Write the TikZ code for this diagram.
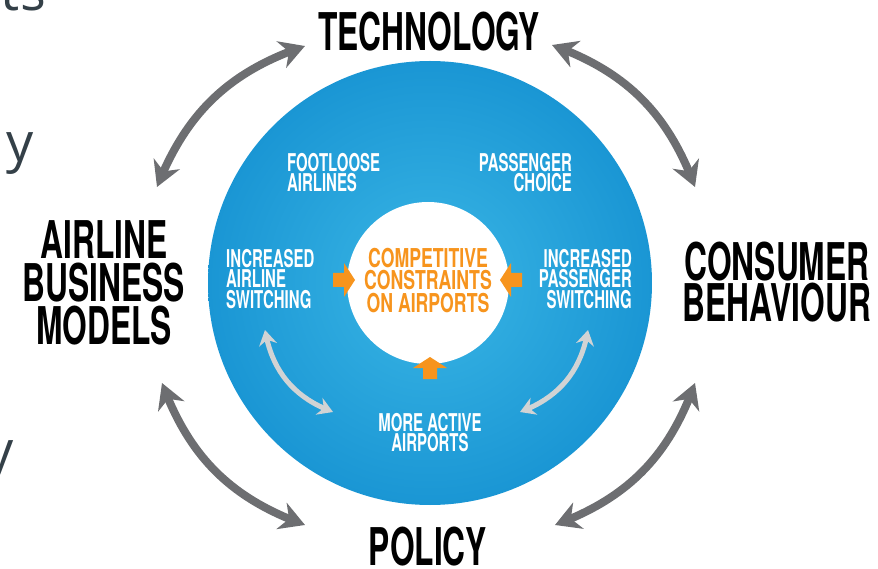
\documentclass[tikz,border=0pt]{standalone}
\usepackage{fontspec}
\usetikzlibrary{arrows.meta,bending}
\newfontfamily\condfont{TeX Gyre Heros}[FakeStretch=0.61]
\newfontfamily\corefont{TeX Gyre Heros}[FakeStretch=0.68]
\newfontfamily\slidefont{Open Sans}
\definecolor{discouter}{RGB}{26,150,212}
\definecolor{discinner}{RGB}{58,182,229}
\definecolor{arrowgray}{RGB}{109,110,113}
\definecolor{lightarrow}{RGB}{209,211,212}
\definecolor{airportorange}{RGB}{247,148,29}
\definecolor{slidegray}{RGB}{52,64,72}
\tikzset{%
    bigword/.style={font=\condfont\bfseries\fontsize{52}{43}\selectfont, align=center, inner sep=0pt},
    smallword/.style={text=white, font=\condfont\bfseries\fontsize{24.5}{20.5}\selectfont, inner sep=0pt},
    coreword/.style={text=airportorange, font=\corefont\bfseries\fontsize{26}{22.5}\selectfont, align=center, inner sep=0pt},
    slideword/.style={text=slidegray, font=\slidefont\fontsize{54}{60}\selectfont, inner sep=0pt}
}

\begin{document}
\begin{tikzpicture}[
                x=1pt, y=-1pt,
                outerarrow/.style={draw=arrowgray, line width=8pt, >={Stealth[length=25pt,width=28pt,inset=8pt]}, <->},
                innerarrow/.style={draw=lightarrow, line width=5pt, >={Stealth[length=15pt,width=18pt,inset=5pt]}, <->}
            ]
            \useasboundingbox (0,0) rectangle (878,569);
            \clip (0,0) rectangle (878,569);

            % discs
            \node[circle, minimum size=444pt, inner sep=0pt, inner color=discinner, outer color=discouter] (disc) at (430,283){};
            \node[circle, minimum size=162pt, inner sep=0pt, fill=white] (core) at (428,283){};

            % cut-off slide text
            \node[slideword, anchor=base east] (frag1) at (46,11){ts};
            \node[slideword, anchor=base east] (frag2) at (34,162){y};
            \node[slideword, anchor=base east] (frag3) at (14,469){y};

            % outer labels
            \node[bigword, anchor=north] (tech) at (429,12){TECHNOLOGY};
            \node[bigword, anchor=north] (models) at (104,220){AIRLINE\\BUSINESS\\MODELS};
            \node[bigword, anchor=north, font=\condfont\bfseries\fontsize{52}{41}\selectfont] (consumer) at (777,242){CONSUMER\\BEHAVIOUR};
            \node[bigword, anchor=north] (policy) at (428,527){POLICY};

            % inner labels
            \node[smallword, anchor=north west, align=left] (footloose) at (287,153){FOOTLOOSE\\AIRLINES};
            \node[smallword, anchor=north east, align=right] (choice) at (572,153){PASSENGER\\CHOICE};
            \node[smallword, anchor=north west, align=left] (airswitch) at (226,249){INCREASED\\AIRLINE\\SWITCHING};
            \node[smallword, anchor=north east, align=right] (passswitch) at (632,249){INCREASED\\PASSENGER\\SWITCHING};
            \node[smallword, anchor=north, align=center] (active) at (430,413){MORE ACTIVE\\AIRPORTS};
            \node[coreword, anchor=north] (constraints) at (428,248){COMPETITIVE\\CONSTRAINTS\\ON AIRPORTS};

            % orange block arrows
            \foreach \px/\py/\ang in {333/280/0, 522/280/180, 430/379/90}
                \fill[airportorange, shift={(\px,\py)}, rotate=\ang]
                    (0,-7) -- (11,-7) -- (11,-17) -- (22,0) -- (11,17) -- (11,7) -- (0,7) -- cycle;

            % outer arrows
            \coordinate (tlA) at (157,187);
            \coordinate (tlB) at (305,46);
            \coordinate (trA) at (552,45);
            \coordinate (trB) at (695,187);
            \coordinate (blA) at (162,383);
            \coordinate (blB) at (305,525);
            \coordinate (brA) at (555,525);
            \coordinate (brB) at (695,383);
            \draw[outerarrow] (tlA) to[bend left=25] (tlB);
            \draw[outerarrow] (trA) to[bend left=25] (trB);
            \draw[outerarrow] (blA) to[bend right=25] (blB);
            \draw[outerarrow] (brA) to[bend right=25] (brB);

            % inner arrows
            \coordinate (ilA) at (265,330);
            \coordinate (ilB) at (333,412);
            \coordinate (irA) at (588,330);
            \coordinate (irB) at (520,412);
            \draw[innerarrow] (ilA) to[bend right=30] (ilB);
            \draw[innerarrow] (irA) to[bend left=30] (irB);
        \end{tikzpicture}
\end{document}
